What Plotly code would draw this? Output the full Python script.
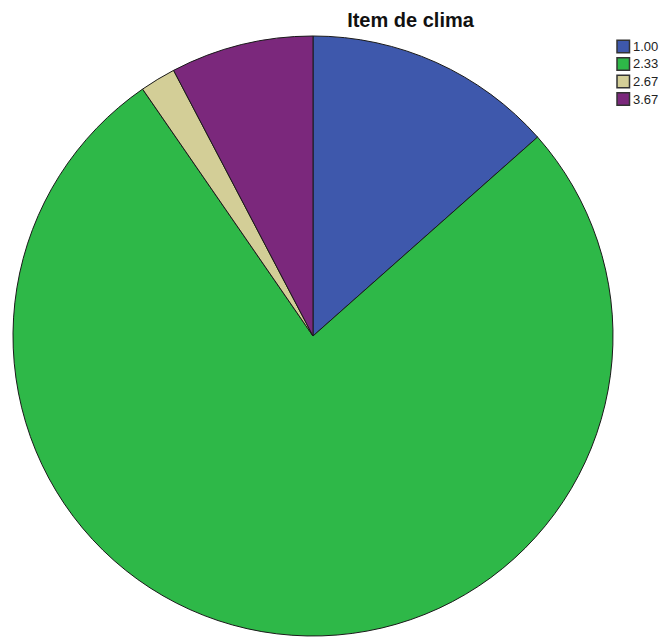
import plotly.graph_objects as go

# Item de clima: frequencies per score value
labels = ["1.00", "2.33", "2.67", "3.67"]
counts = [7, 40, 1, 4]
colors = ["#3E58AC", "#2EB848", "#D3CE97", "#7B287C"]

W, H = 661, 637
cx, cy, r = 313, 336, 300

fig = go.Figure(go.Pie(
    labels=labels,
    values=counts,
    sort=False,
    direction="clockwise",
    rotation=0,
    textinfo="none",
    hoverinfo="label+value+percent",
    showlegend=False,
    marker=dict(colors=colors, line=dict(color="#1a1a1a", width=1)),
    domain=dict(x=[(cx - r) / W, (cx + r) / W],
                y=[1 - (cy + r) / H, 1 - (cy - r) / H]),
))

# Compact legend: small swatches with the value text right beside them
leg_x, leg_y0, leg_dy, sw = 617, 46.5, 17.5, 12.5
shapes, annotations = [], []
for i, (lab, col) in enumerate(zip(labels, colors)):
    yc = leg_y0 + i * leg_dy
    shapes.append(dict(type="rect", xref="paper", yref="paper",
                       x0=leg_x / W, x1=(leg_x + sw) / W,
                       y0=1 - (yc + sw / 2) / H, y1=1 - (yc - sw / 2) / H,
                       fillcolor=col, line=dict(color="#333333", width=1.5)))
    annotations.append(dict(text=lab, xref="paper", yref="paper",
                            x=(leg_x + sw + 1) / W, xanchor="left",
                            y=1 - yc / H, yanchor="middle", showarrow=False,
                            font=dict(family="Liberation Sans, Arial", size=13,
                                      color="#222")))

fig.update_layout(
    width=W, height=H,
    margin=dict(l=0, r=0, t=0, b=0),
    paper_bgcolor="white",
    plot_bgcolor="white",
    shapes=shapes,
    annotations=annotations,
    title=dict(text="<b>Item de clima</b>", x=410.5 / W, xanchor="center",
               y=1 - 20 / H, yanchor="middle",
               font=dict(family="Liberation Sans, Arial", size=20, color="#111")),
)

fig.write_html("out.html")
